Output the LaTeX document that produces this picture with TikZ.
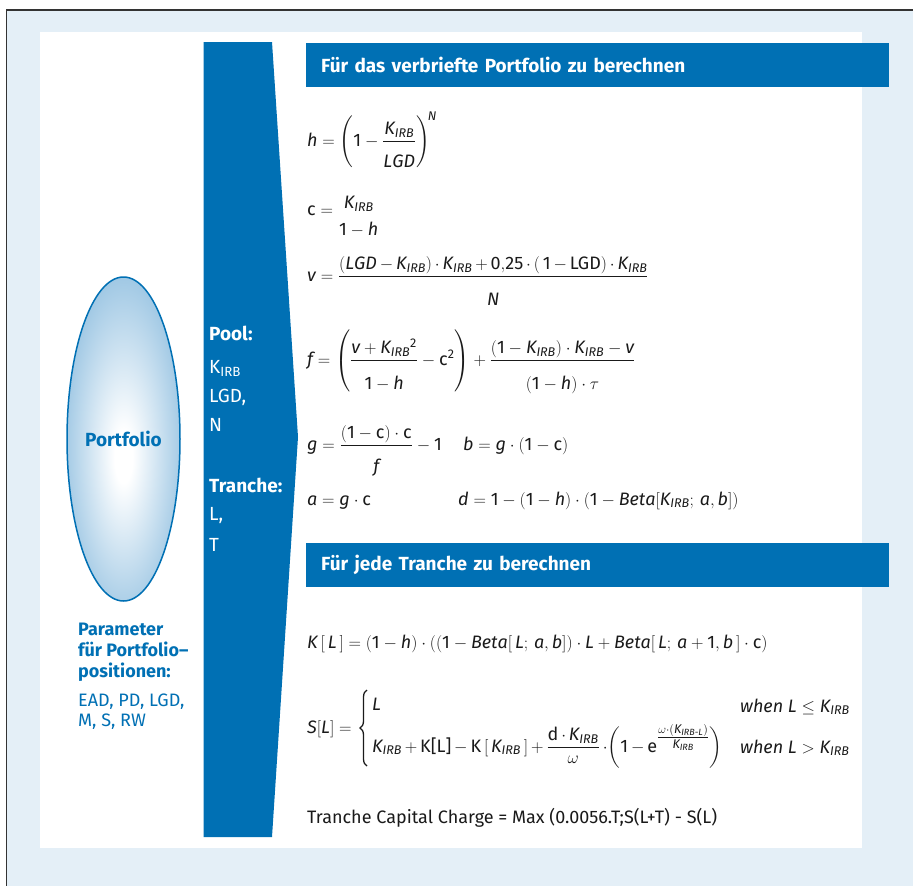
\documentclass[tikz,border=0pt]{standalone}
\usepackage{amsmath}
\usepackage{mathspec}
\setmainfont{Fira Sans}
\setmathsfont(Digits,Latin){Fira Sans}
\setmathrm{Fira Sans}
\usetikzlibrary{shapes.geometric,decorations.pathreplacing}

\definecolor{irbblue}{HTML}{0070B4}
\definecolor{framebg}{HTML}{E4EFF7}
\definecolor{ellblue}{HTML}{78B1D9}
\definecolor{formtext}{HTML}{1A1A1A}

\pgfdeclareradialshading{portshade}{\pgfpoint{0bp}{-3bp}}{color(0bp)=(white); color(4bp)=(white); color(36bp)=(ellblue); color(50bp)=(ellblue)}

\newcommand{\upr}[1]{\textup{#1}}
\newcommand{\lowden}[1][17pt]{\rule{0pt}{#1}}

\tikzset{
  headbar/.style={fill=irbblue, text=white, anchor=north west,
    font=\fontsize{19}{22}\selectfont\bfseries,
    minimum height=44pt, text width=553pt, align=left, inner xsep=15pt},
  formula/.style={anchor=base west, inner sep=0pt, text=formtext,
    font=\fontsize{18}{21}\selectfont},
  sidetext/.style={anchor=base west, inner sep=0pt, text=white,
    font=\fontsize{19}{22}\selectfont},
  sidehead/.style={sidetext, font=\fontsize{19}{22}\selectfont\bfseries},
  paramtext/.style={anchor=base west, inner sep=0pt, text=irbblue,
    font=\fontsize{18}{21}\selectfont},
  paramhead/.style={paramtext, font=\fontsize{18}{21}\selectfont\bfseries},
}

\begin{document}
\begin{tikzpicture}[x=1pt,y=-1pt]
  \useasboundingbox (0,0) rectangle (913,886);
  % frame and panel
  \fill[framebg] (6,10) rectangle (913,886);
  \draw[black!80,line width=1.3pt] (913,10) -- (6.5,10) -- (6.5,886);
  \fill[white] (40,32) rectangle (862,848);
  % portfolio
  \node[ellipse,draw=irbblue,line width=1.5pt,shading=portshade,
    minimum width=113pt,minimum height=324pt,inner sep=0pt,
    text=irbblue,font=\fontsize{19}{22}\selectfont\bfseries] (portfolio) at (123.5,439) {Portfolio};
  \node[paramhead] (param1) at (78,635) {Parameter};
  \node[paramhead] (param2) at (78,656) {für Portfolio–};
  \node[paramhead] (param3) at (78,677) {positionen:};
  \node[paramtext] (param4) at (78,706) {EAD, PD, LGD,};
  \node[paramtext] (param5) at (78,726) {M, S, RW};
  % arrow column
  \fill[irbblue] (203.5,42) -- (272,42) -- (298,437) -- (272,837) -- (203.5,837) -- cycle;
  \node[sidehead] (poolhd) at (209,340) {Pool:};
  \node[sidetext] (poolk) at (209,373) {K\textsubscript{IRB}};
  \node[sidetext] (poollgd) at (209,402) {LGD,};
  \node[sidetext] (pooln) at (209,431) {N};
  \node[sidehead] (tranchehd) at (209,492) {Tranche:};
  \node[sidetext] (tranchel) at (209,520) {L,};
  \node[sidetext] (tranchet) at (209,551) {T};
  % portfolio formulas
  \node[headbar] (hdpool) at (306,43) {Für das verbriefte Portfolio zu berechnen};
  \node[formula] (hdef) at (307,146) {$h = \left(1 - \dfrac{K_{IRB}\rule[-4pt]{0pt}{4pt}}{\lowden[23pt] LGD}\right)^{\!N}$};
  \node[formula] (cdef) at (307,215) {$\upr{c} = \raisebox{-7pt}{$\genfrac{}{}{0pt}{0}{K_{IRB}}{\lowden[20pt] 1-h}$}$};
  \node[formula] (vdef) at (307,281) {\medmuskip=3mu $v = \dfrac{(LGD - K_{IRB})\cdot K_{IRB} + 0{,}25\cdot(\,1-\upr{LGD})\cdot K_{IRB}}{\lowden[26pt] N}$};
  \node[formula] (fdef) at (307,365) {$f = \left(\dfrac{v + K_{IRB}{}^{2}}{\lowden[26pt] 1-h} - \upr{c}^{2}\right) + \dfrac{(1-K_{IRB})\cdot K_{IRB} - v}{\lowden[26pt] (1-h)\cdot\tau}$};
  \node[formula] (gdef) at (307,450) {$g = \dfrac{(1-\upr{c})\cdot\upr{c}}{\lowden[24pt] f} - 1$};
  \node[formula] (bdef) at (463,450) {$b = g\cdot(1-\upr{c})$};
  \node[formula] (adef) at (307,505) {$a = g\cdot\upr{c}$};
  \node[formula] (ddef) at (458,505) {$d = 1-(1-h)\cdot(1-Beta[K_{IRB};\,a,b])$};
  % tranche formulas
  \node[headbar] (hdtranche) at (306,543) {Für jede Tranche zu berechnen};
  \node[formula] (kdef) at (307,648) {$K\,[\,L\,] = (1-h)\cdot((1-Beta[\,L;\,a,b])\cdot L + Beta[\,L;\,a+1,b\,]\cdot\upr{c})$};
  \node[formula] (sdef) at (307,733) {$S[L] =$};
  \coordinate (bracetop) at (367,690);
  \coordinate (bracebot) at (367,766);
  \draw[formtext,line width=1.3pt,decorate,decoration={brace,amplitude=7pt}] (bracebot) -- (bracetop);
  \node[formula] (scase1) at (372,710) {$L$};
  \node[formula] (scase2) at (372,752) {\medmuskip=3mu $K_{IRB} + \upr{K[L]} - \upr{K}\,[\,K_{IRB}\,] + \dfrac{\upr{d}\cdot K_{IRB}}{\omega}\cdot\!\left(1-\upr{e}^{\genfrac{}{}{}{1}{\omega\cdot(K_{IRB\text{-}L})}{K_{IRB}}}\right)$};
  \node[formula] (when1) at (740,712) {$\textit{when}\ L \leq K_{IRB}$};
  \node[formula] (when2) at (740,753) {$\textit{when}\ L > K_{IRB}$};
  \node[formula] (charge) at (307,823) {Tranche Capital Charge = Max (0.0056.T;S(L+T) - S(L)};
\end{tikzpicture}
\end{document}
